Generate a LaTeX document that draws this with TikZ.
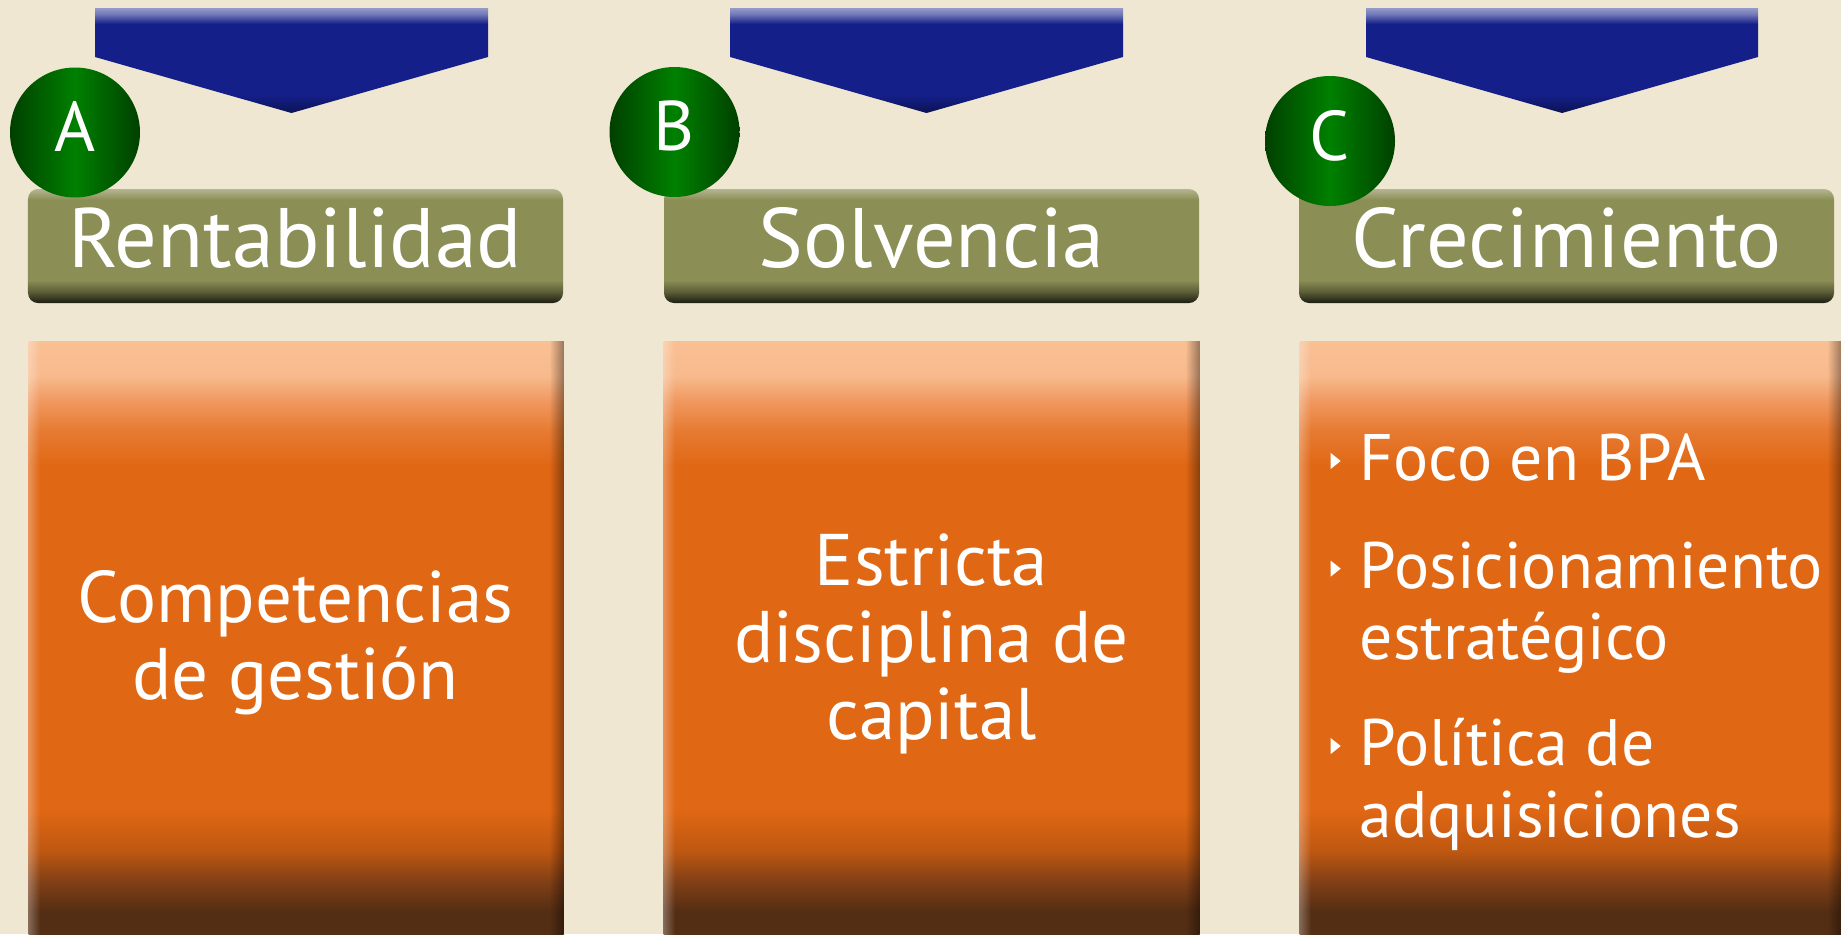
\documentclass[tikz,border=0pt]{standalone}
\usepackage{tikz}
\usepackage{xcolor}
\usepackage{fontspec}
\setmainfont{PT Sans}
\usetikzlibrary{fadings}

\definecolor{paper}{RGB}{239,231,209}
\definecolor{navy}{RGB}{20,31,137}
\definecolor{olive}{RGB}{139,142,85}
\definecolor{rust}{RGB}{224,103,20}
\definecolor{peach}{RGB}{249,192,148}
\definecolor{peachmid}{RGB}{240,152,95}
\definecolor{rustdeep}{RGB}{125,62,22}
\definecolor{rustdark}{RGB}{84,46,20}
\definecolor{leaf}{RGB}{0,128,0}
\definecolor{leafdark}{RGB}{0,64,0}

\pgfdeclareverticalshading{navyshade}{100bp}{
  color(0bp)=(navy!60!black); color(25bp)=(navy!60!black);
  color(33.6bp)=(navy); color(67.4bp)=(navy);
  color(72.1bp)=(navy!60!white); color(75bp)=(navy!45!white);
  color(100bp)=(navy!45!white)}
\pgfdeclareverticalshading{oliveshade}{100bp}{
  color(0bp)=(olive!20!black); color(25bp)=(olive!20!black);
  color(29.8bp)=(olive!65!black); color(35.1bp)=(olive);
  color(70.2bp)=(olive); color(75bp)=(olive!65!white);
  color(100bp)=(olive!65!white)}
\pgfdeclareverticalshading{rustshade}{100bp}{
  color(0bp)=(rustdark); color(27bp)=(rustdark);
  color(29.3bp)=(rustdeep); color(32.1bp)=(rust!85!black);
  color(35.5bp)=(rust); color(64.5bp)=(rust);
  color(67.5bp)=(rust!60!peachmid); color(70bp)=(peachmid);
  color(72.1bp)=(peach!85!peachmid); color(75bp)=(peach);
  color(100bp)=(peach)}

% small white bullet
\newcommand{\tri}{\makebox[0.29cm][l]{\tikz[baseline=0pt]\fill[white] (0,0.115) -- (0.1,0.195) -- (0,0.275) -- cycle;}}

\begin{document}
\begin{tikzpicture}[
  every node/.style={inner sep=0pt, text=white},
  letter/.style={circle, minimum size=1.3cm, left color=leafdark, right color=leafdark, middle color=leaf, font=\fontsize{20}{24}\selectfont, text depth=0.12cm},
  headbox/.style={rounded corners=0.1cm, shading=oliveshade, minimum width=5.35cm, minimum height=1.14cm, text height=0.6cm, text depth=0.18cm, font=\fontsize{24}{28}\selectfont},
  panel/.style={shading=rustshade, anchor=north west, minimum height=5.93cm},
  bodytext/.style={align=center, anchor=north, font=\fontsize{20.8}{21.9}\selectfont},
  listtext/.style={align=left, anchor=north west, font=\fontsize{18.7}{20.4}\selectfont}
]
  \useasboundingbox (0,0) rectangle (18.41,9.34);
  \fill[paper] (0,0) rectangle (18.41,9.34);

  % chevrons
  \shade[shading=navyshade] (0.95,9.26) -- (4.88,9.26) -- (4.88,8.77) -- (2.915,8.21) -- (0.95,8.77) -- cycle;
  \shade[shading=navyshade] (7.30,9.26) -- (11.23,9.26) -- (11.23,8.77) -- (9.265,8.21) -- (7.30,8.77) -- cycle;
  \shade[shading=navyshade] (13.66,9.26) -- (17.58,9.26) -- (17.58,8.77) -- (15.62,8.21) -- (13.66,8.77) -- cycle;

  % headers
  \node[headbox] (rent) at (2.955,6.88) {Rentabilidad};
  \node[headbox] (solv) at (9.315,6.88) {Solvencia};
  \node[headbox] (crec) at (15.665,6.88) {Crecimiento};

  \node[letter] (circA) at (0.75,8.015) {A};
  \node[letter] (circB) at (6.745,8.02) {B};
  \node[letter] (circC) at (13.30,7.93) {C};

  % panels
  \node[panel, minimum width=5.35cm] (panelA) at (0.28,5.93) {};
  \node[panel, minimum width=5.36cm] (panelB) at (6.63,5.93) {};
  \node[panel, minimum width=5.42cm] (panelC) at (12.99,5.93) {};
  \foreach \p in {panelA,panelB,panelC} {
    \fill[white, fill opacity=.3, path fading=east] (\p.north west) rectangle ([xshift=0.12cm]\p.south west);
    \fill[black, fill opacity=.4, path fading=west] (\p.north east) rectangle ([xshift=-0.15cm]\p.south east);
  }

  \node[bodytext] (txtA) at (2.955,3.64) {Competencias\\de gestión};
  \node[bodytext] (txtB) at (9.315,4.01) {Estricta\\disciplina de\\capital};
  \node[listtext] (txtC) at (13.30,5.01) {\tri Foco en BPA\\[0.36cm]
    \tri Posicionamiento\\\hspace*{0.29cm}estratégico\\[0.34cm]
    \tri Política de\\\hspace*{0.29cm}adquisiciones};
\end{tikzpicture}
\end{document}
